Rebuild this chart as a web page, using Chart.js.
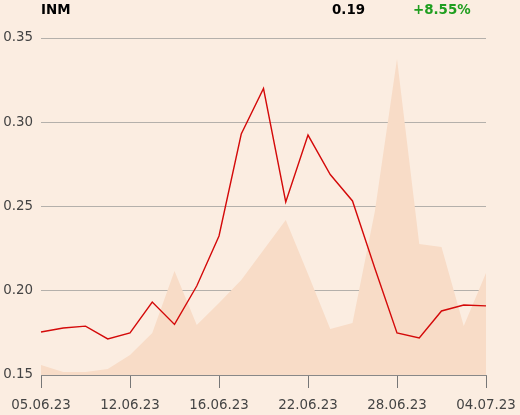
<!DOCTYPE html>
<html>
<head>
<meta charset="utf-8">
<script src="https://cdn.jsdelivr.net/npm/chart.js@4"></script>
<style>
  body { margin: 0; background: #fbede1; }
  #wrap { position: relative; width: 520px; height: 415px; background: #fbede1; font-family: "DejaVu Sans", sans-serif; }
  .head { position: absolute; top: 2px; font-size: 13.4px; font-weight: bold; line-height: 16px; }
  canvas { position: absolute; left: 0; top: 0; }
</style>
</head>
<body>
<div id="wrap">
  <canvas id="chart" width="520" height="415"></canvas>
  <div class="head" style="left:41px;color:#000">INM</div>
  <div class="head" style="left:332px;color:#000">0.19</div>
  <div class="head" style="left:413px;color:#1f9e1f">+8.55%</div>
</div>
<script>
// trading days, only every 4th one gets a label
var dates = ['05.06.23', '07.06.23', '08.06.23', '09.06.23', '12.06.23', '13.06.23', '14.06.23',
    '15.06.23', '16.06.23', '19.06.23', '20.06.23', '21.06.23', '22.06.23', '23.06.23',
    '26.06.23', '27.06.23', '28.06.23', '29.06.23', '30.06.23', '03.07.23', '04.07.23'];
var shownDates = ['05.06.23', '12.06.23', '16.06.23', '22.06.23', '28.06.23', '04.07.23'];

var price = [0.1755, 0.1779, 0.179, 0.1714, 0.175, 0.1933, 0.180, 0.2028, 0.2325, 0.293, 0.320,
    0.2527, 0.2924, 0.269, 0.2533, 0.2135, 0.175, 0.172, 0.188, 0.1915, 0.191];

var volume = [10000, 3000, 3000, 6000, 20000, 42000, 104000, 50000, 72000, 95000, 125000,
    155000, 101000, 46000, 52000, 163000, 316000, 131000, 128000, 49000, 102000];

var yTicks = [0.15, 0.20, 0.25, 0.30, 0.35];

var ctx = document.getElementById('chart').getContext('2d');

new Chart(ctx, {
    type: 'line',
    data: {
        labels: dates,
        datasets: [
            {
                label: 'Price',
                data: price,
                yAxisID: 'y',
                borderColor: '#d40a0a',
                borderWidth: 1.4,
                pointRadius: 0,
                tension: 0,
                fill: false,
                order: 1
            },
            {
                label: 'Volume',
                data: volume,
                yAxisID: 'y2',
                borderWidth: 0,
                backgroundColor: '#f8dcc7',
                pointRadius: 0,
                tension: 0,
                fill: 'origin',
                order: 2
            }
        ]
    },
    options: {
        responsive: false,
        animation: false,
        layout: { padding: { top: 38, right: 34, left: 0, bottom: 0 } },
        plugins: { legend: { display: false }, tooltip: { enabled: false } },
        scales: {
            x: {
                offset: false,
                grid: { drawOnChartArea: false, drawTicks: true, tickLength: 13, color: '#777' },
                border: { display: true, color: '#888' },
                ticks: {
                    autoSkip: false,
                    maxRotation: 0,
                    padding: 9,
                    color: '#444',
                    font: { family: 'DejaVu Sans', size: 13.4 },
                    callback: function(value, index) {
                        var d = dates[index];
                        return shownDates.indexOf(d) >= 0 ? d : null;
                    }
                },
                afterFit: function(scale) {
                    scale.height = 40;
                    // labels may hang over the edges, keep the plot width fixed
                    scale.paddingLeft = 0;
                    scale.paddingRight = 0;
                }
            },
            y: {
                min: yTicks[0],
                max: yTicks[yTicks.length - 1],
                afterBuildTicks: function(scale) {
                    scale.ticks = yTicks.map(function(v) { return { value: v }; });
                },
                grid: { drawTicks: false, color: '#b4b0ab', lineWidth: 1 },
                border: { display: false },
                ticks: {
                    padding: 8,
                    color: '#444',
                    font: { family: 'DejaVu Sans', size: 13.4 },
                    callback: function(v) { return v.toFixed(2); }
                },
                afterFit: function(scale) {
                    scale.width = 41;
                    scale.paddingTop = 0;
                    scale.paddingBottom = 0;
                }
            },
            y2: {
                display: false,
                min: 0,
                max: 337000
            }
        }
    }
});
</script>
</body>
</html>
